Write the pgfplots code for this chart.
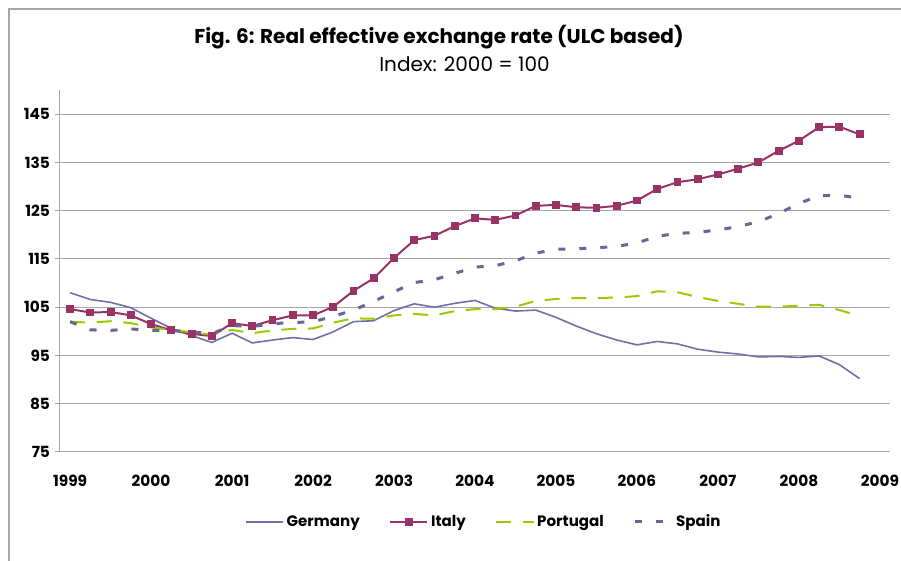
\documentclass[border=0pt]{standalone}
\usepackage{pgfplots}
\pgfplotsset{compat=1.18}
\usepackage{pgfplotstable}
\usepackage{fontspec}
\setmainfont{Poppins}
\definecolor{ger}{HTML}{7070A8}
\definecolor{ita}{HTML}{993366}
\definecolor{por}{HTML}{99CC00}
\definecolor{spa}{HTML}{666699}
\definecolor{gridc}{HTML}{A6A6A6}
\pgfplotstableread{
x ger ita por spa
0 108.0 104.6 102.0 102.0
1 106.6 103.9 101.8 100.3
2 106.0 104.0 102.1 100.2
3 104.9 103.3 101.7 100.5
4 102.7 101.5 100.8 100.2
5 100.6 100.2 100.3 100.2
6 99.1 99.5 99.8 99.9
7 97.7 99.0 99.3 99.5
8 99.6 101.7 100.3 101.2
9 97.6 101.1 99.6 101.0
10 98.2 102.3 100.2 101.6
11 98.7 103.3 100.5 101.8
12 98.3 103.3 100.6 102.0
13 99.9 105.1 101.8 103.1
14 102.0 108.4 102.7 104.4
15 102.2 111.0 102.6 106.2
16 104.3 115.2 103.3 108.2
17 105.7 118.9 103.6 110.1
18 105.0 119.8 103.3 110.7
19 105.8 121.8 104.2 112.0
20 106.4 123.4 104.6 113.3
21 104.8 123.1 104.6 113.6
22 104.2 124.0 105.1 114.6
23 104.4 126.0 106.3 116.2
24 102.9 126.2 106.7 117.0
25 101.1 125.7 106.9 117.1
26 99.5 125.6 106.9 117.3
27 98.2 126.0 107.0 117.6
28 97.2 127.1 107.3 118.3
29 97.9 129.5 108.3 119.7
30 97.4 130.9 108.1 120.3
31 96.3 131.5 107.1 120.5
32 95.7 132.5 106.3 121.0
33 95.3 133.7 105.7 121.7
34 94.7 135.0 105.1 122.7
35 94.8 137.4 105.1 124.4
36 94.6 139.5 105.3 126.5
37 94.9 142.3 105.5 128.1
38 93.1 142.4 104.4 128.2
39 90.2 140.8 103.2 127.6
}\data
\begin{document}
\begin{tikzpicture}
\useasboundingbox (0,0) rectangle (675.75pt,420.75pt);
\draw[gridc, line width=1pt] (6.75pt,0) -- (6.75pt,414pt) -- (675.75pt,414pt);
\node[font=\fontsize{15}{17}\selectfont\bfseries] at (329.25pt,393pt) {Fig. 6: Real effective exchange rate (ULC based)};
\node[font=\fontsize{15}{17}\selectfont] at (348.4pt,372.75pt) {Index: 2000 = 100};
\begin{axis}[
  at={(45pt,81.75pt)}, anchor=south west,
  scale only axis, width=622.5pt, height=271.5pt,
  xmin=-0.5, xmax=40.5, ymin=75, ymax=150,
  ytick={75,85,...,145},
  xtick={0,4,...,40},
  xticklabels={1999,2000,2001,2002,2003,2004,2005,2006,2007,2008,2009},
  minor xtick={-0.5,0.5,...,40.5},
  axis lines*=left,
  axis line style={gridc, line width=0.75pt},
  tick align=outside,
  major tick length=4pt,
  minor tick length=4.5pt,
  xtick style={draw=none},
  ytick style={gridc, line width=0.75pt},
  minor tick style={gridc, line width=0.75pt},
  ymajorgrids,
  grid style={gridc, line width=0.75pt},
  /pgf/number format/assume math mode=true,
  tick label style={font=\fontsize{11.5}{13}\selectfont\bfseries},
  xticklabel style={yshift=-10pt},
  clip=false,
  legend columns=4,
  legend style={at={(axis description cs:0.511,-0.193)}, anchor=center, draw=none, fill=none,
    font=\fontsize{11.3}{13}\selectfont\bfseries,
    /tikz/every even column/.append style={column sep=20pt}},
  legend image code/.code={\draw[mark repeat=2,mark phase=2] plot coordinates {(0pt,0pt) (14pt,0pt) (28pt,0pt)};},
]
\addplot[ger, line width=1.2pt] table[x=x,y=ger] {\data};
\addlegendentry{Germany}
\addplot[ita, line width=1.5pt, mark=square*, mark size=2.2pt, mark options={solid}] table[x=x,y=ita] {\data};
\addlegendentry{Italy}
\addplot[por, line width=1.5pt, dash pattern=on 11.25pt off 8.75pt] table[x=x,y=por] {\data};
\addlegendentry{Portugal}
\addplot[spa, line width=2.25pt, dash pattern=on 5.25pt off 10.5pt] table[x=x,y=spa] {\data};
\addlegendentry{Spain}
\end{axis}
\end{tikzpicture}
\end{document}
